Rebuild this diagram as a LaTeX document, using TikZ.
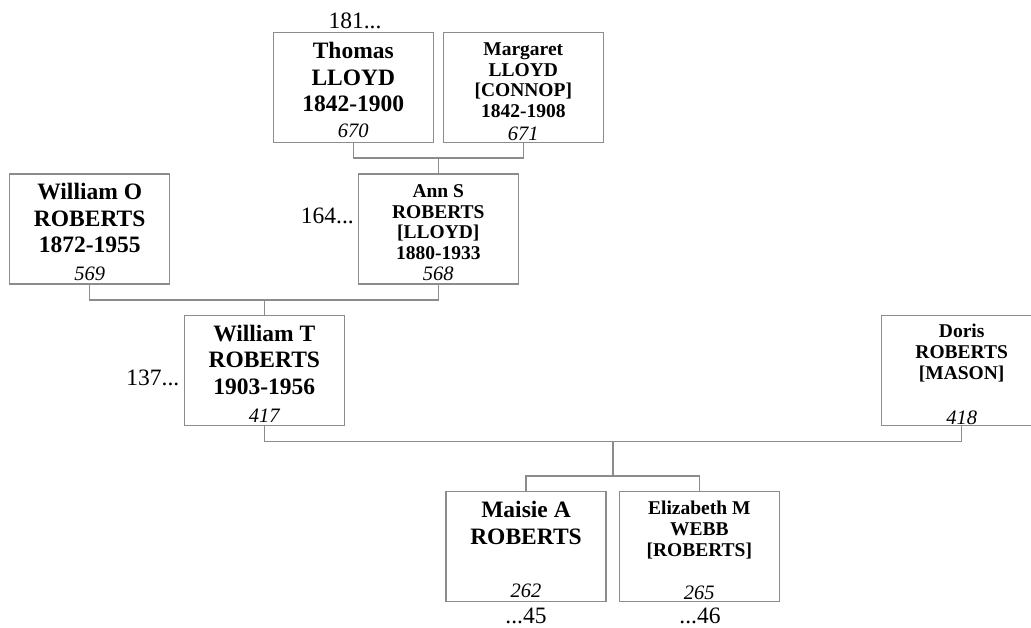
\documentclass[tikz,border=0pt]{standalone}
\usepackage{fontspec}
\setmainfont{Liberation Serif}
\usepackage{tikz}
\usetikzlibrary{positioning,calc}
\definecolor{linegray}{RGB}{140,140,140}

\begin{document}
\begin{tikzpicture}[x=1pt,y=-1pt,every node/.style={inner sep=0pt},
  pbox/.style={draw=linegray,line width=1.3pt,minimum width=160pt,minimum height=110pt},
  conn/.style={draw=linegray,line width=1.3pt},
  bigname/.style={align=center,font=\bfseries\fontsize{23.5}{26.7}\selectfont},
  smallname/.style={align=center,font=\bfseries\fontsize{19.5}{20.7}\selectfont},
  num/.style={anchor=base,font=\itshape\fontsize{20.5}{22}\selectfont},
  gen/.style={font=\fontsize{23.5}{26}\selectfont}]
\useasboundingbox (0,0) rectangle (1031,627);
% boxes
\node[pbox] (thomas) at (353.3,87.7) {}; \node[pbox] (margaret) at (523.3,87.7) {};
\node[pbox] (willo) at (89.7,229) {}; \node[pbox] (ann) at (438.3,229) {};
\node[pbox] (willt) at (264.3,370.7) {}; \node[pbox] (doris) at (961.7,370.4) {};
\node[pbox] (maisie) at (526,546.7) {}; \node[pbox] (eliz) at (699.3,546.7) {};
% names
\node[bigname,anchor=north,below=10pt of thomas.north] (thomasN) {Thomas\\LLOYD\\1842-1900};
\node[smallname,anchor=north,below=10.5pt of margaret.north] (margaretN) {Margaret\\LLOYD\\{[CONNOP]}\\1842-1908};
\node[bigname,anchor=north,below=9.5pt of willo.north] (willoN) {William O\\ROBERTS\\1872-1955};
\node[smallname,anchor=north,below=11pt of ann.north] (annN) {Ann S\\ROBERTS\\{[LLOYD]}\\1880-1933};
\node[bigname,anchor=north,below=9.5pt of willt.north] (willtN) {William T\\ROBERTS\\1903-1956};
\node[smallname,anchor=north,below=9.5pt of doris.north] (dorisN) {Doris\\ROBERTS\\{[MASON]}};
\node[bigname,anchor=north,below=10pt of maisie.north] (maisieN) {Maisie A\\ROBERTS};
\node[smallname,anchor=north,below=10pt of eliz.north] (elizN) {Elizabeth M\\WEBB\\{[ROBERTS]}};
% numbers
\node[num] at ($(thomas.south)+(0,-6)$) {670}; \node[num] at ($(margaret.south)+(0,-2.7)$) {671};
\node[num] at ($(willo.south)+(0,-4)$) {569}; \node[num] at ($(ann.south)+(0,-4)$) {568};
\node[num] at ($(willt.south)+(0,-4)$) {417}; \node[num] at ($(doris.south)+(0,-2)$) {418};
\node[num] at ($(maisie.south)+(0,-5)$) {262}; \node[num] at ($(eliz.south)+(0,-2.4)$) {265};
% generation counts
\node[gen,anchor=base] (g181) at (355,28.3) {181...};
\node[gen,anchor=base east] (g164) at (354,223.3) {164...};
\node[gen,anchor=base east] (g137) at (179.5,385) {137...};
\node[gen,anchor=base] (g45) at (526,623.3) {...45}; \node[gen,anchor=base] (g46) at (700,623.3) {...46};
% connectors
\coordinate (tm) at (438.3,158); \coordinate (wa) at (264.3,300);
\coordinate (wd) at (613,441.5); \coordinate (kids) at (613,476);
\draw[conn] (thomas.south) |- (tm) -| (margaret.south); \draw[conn] (tm)--(ann.north);
\draw[conn] (willo.south) |- (wa) -| (ann.south); \draw[conn] (wa)--(willt.north);
\draw[conn] (willt.south) |- (wd) -| (doris.south); \draw[conn] (wd)--(kids);
\draw[conn] (maisie.north) |- (kids) -| (eliz.north);
\end{tikzpicture}
\end{document}
